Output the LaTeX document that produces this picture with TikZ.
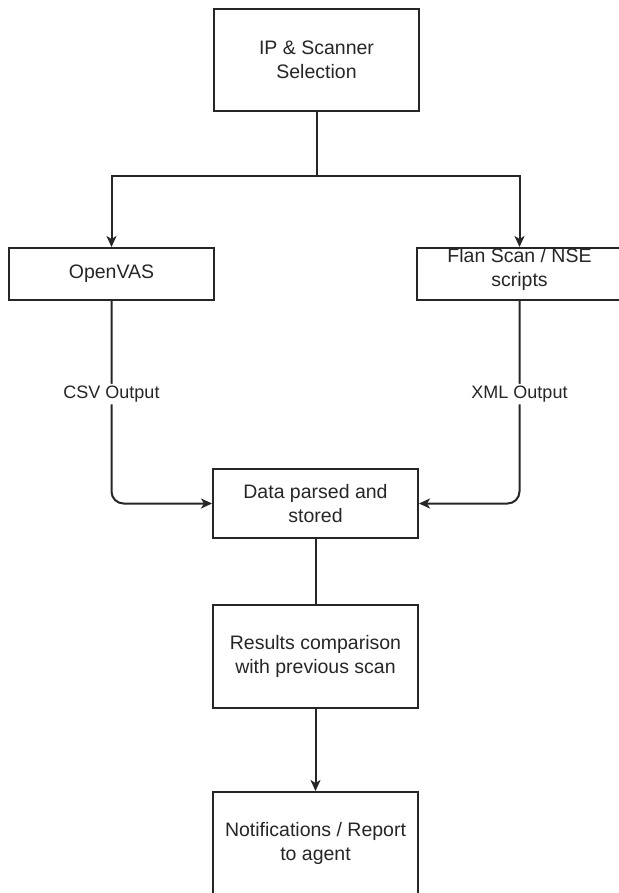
\documentclass[tikz,border=0pt]{standalone}
\usepackage{fontspec}
\setmainfont{Liberation Sans}
\usetikzlibrary{arrows.meta,positioning}
\begin{document}
\begin{tikzpicture}[x=1pt,y=-1pt,line width=2pt,draw=black!85,>={Stealth[length=11pt,width=10pt,inset=3pt]}]
    \tikzstyle{box}=[draw,rectangle,minimum width=205pt,inner sep=0pt,align=center,text=black!85,font=\fontsize{19.5}{24}\selectfont]
    \tikzstyle{lbl}=[fill=white,inner sep=2pt,text=black!85,font=\fontsize{18}{22}\selectfont]

    \useasboundingbox (0,0) rectangle (618,893);

    % Selection step
    \node[box,minimum height=102pt] (sel) at (316.5,60) {IP \& Scanner\\Selection};

    % Scanners
    \node[box,minimum height=52pt] (ovas) at (111.5,274) {OpenVAS};
    \node[box,minimum height=52pt,text depth=13pt] (flan) at (519.5,274) {Flan Scan / NSE\\scripts};

    % Processing steps
    \node[box,minimum height=69pt] (data) at (315.5,503.5) {Data parsed and\\stored};
    \node[box,minimum height=103pt] (cmp) at (315.5,656.5) {Results comparison\\with previous scan};
    \node[box,minimum height=102pt] (notif) at (315.5,843) {Notifications / Report\\to agent};

    % Connect selection to scanners
    \coordinate (split) at (316.5,176);
    \draw[->] (sel) -- (split) -| (ovas);
    \draw[->] (split) -| (flan);

    % Connect scanners to parsing
    \draw[->,rounded corners=12pt] (ovas) |- node[lbl,pos=0.23] {CSV Output} (data);
    \draw[->,rounded corners=12pt] (flan) |- node[lbl,pos=0.23] {XML Output} (data);

    % Connect parsing to comparison to notification
    \draw (data) -- (cmp);
    \draw[->] (cmp) -- (notif);

\end{tikzpicture}
\end{document}
